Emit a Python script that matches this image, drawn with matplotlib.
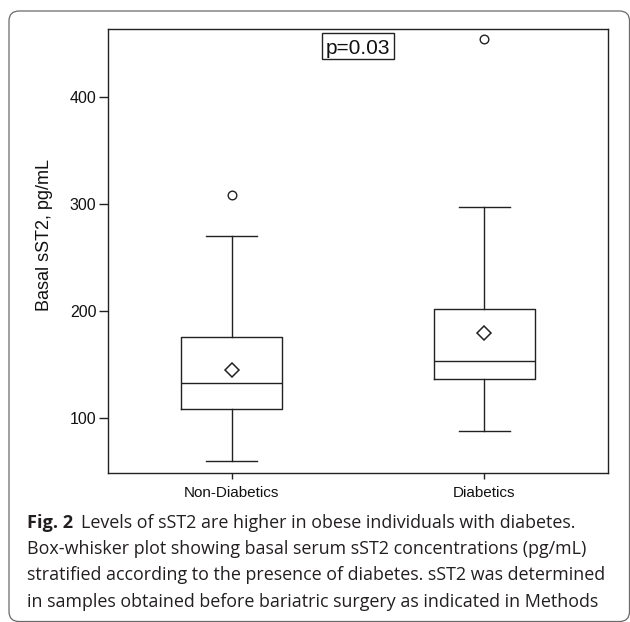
import matplotlib
matplotlib.use('Agg')
import matplotlib.pyplot as plt
from matplotlib.patches import FancyBboxPatch, Rectangle

# ---- data ----
groups = ['Non-Diabetics', 'Diabetics']
whislo = [59.5, 87.6]
q1 = [107.9, 135.9]
med = [132.7, 153.3]
mean = [144.6, 178.9]
q3 = [175.7, 201.9]
whishi = [269.8, 296.6]
fliers = [[308.4], [453.6]]
yticks = [100, 200, 300, 400]
p_text = 'p=0.03'
ylabel = 'Basal sST2, pg/mL'
caption_bold = 'Fig. 2'
caption_lines = [
    'Levels of sST2 are higher in obese individuals with diabetes.',
    'Box-whisker plot showing basal serum sST2 concentrations (pg/mL)',
    'stratified according to the presence of diabetes. sST2 was determined',
    'in samples obtained before bariatric surgery as indicated in Methods',
]

W, H = 630, 622
INK = '#222222'
plt.rcParams['font.family'] = ['Liberation Sans', 'DejaVu Sans']

fig = plt.figure(figsize=(W / 100, H / 100), dpi=100)

# rounded frame around the whole figure
frame = FancyBboxPatch((9 / W, 0.5 / H), (629.5 - 9) / W, (611 - 0.5) / H,
                       boxstyle='round,pad=0,rounding_size=0.016',
                       transform=fig.transFigure, fc='none', ec='#6a6a6a', lw=0.9)
fig.patches.append(frame)

ax = fig.add_axes([108.3 / W, 1 - 473.3 / H, 499.4 / W, 444.3 / H])

stats = []
for i, g in enumerate(groups):
    stats.append(dict(label=g, whislo=whislo[i], q1=q1[i], med=med[i], q3=q3[i],
                      whishi=whishi[i], mean=mean[i], fliers=fliers[i]))

lp = dict(color=INK, lw=1.0)
ax.bxp(stats, positions=[1, 2], widths=0.4, capwidths=0.2, showmeans=True,
       boxprops=lp, whiskerprops=lp, capprops=lp, medianprops=lp,
       meanprops=dict(marker='D', markerfacecolor='white', markeredgecolor=INK,
                      markersize=7, markeredgewidth=1.1),
       flierprops=dict(marker='o', markerfacecolor='none', markeredgecolor=INK,
                       markersize=6.2, markeredgewidth=1.0))

ax.set_xlim(0.5115, 2.4885)
ax.set_ylim(48.0, 463.3)
ax.set_yticks(yticks)
ax.set_yticklabels([str(v) for v in yticks])
for s in ax.spines.values():
    s.set_color(INK)
    s.set_linewidth(1.0)
ax.tick_params(axis='y', length=6.5, width=1.0, pad=2, labelsize=11.5, colors=INK)
ax.tick_params(axis='x', length=4.5, width=1.0, pad=5, labelsize=11, colors=INK)
for t in ax.get_xticklabels() + ax.get_yticklabels():
    t.set_color('#111111')

# p-value box
ax.add_patch(Rectangle((0.4273, 0.9318), 0.5721 - 0.4273, 0.9903 - 0.9318,
                       transform=ax.transAxes, fc='white', ec=INK, lw=1.0, zorder=5))
ax.text(0.4995, 0.943, p_text, transform=ax.transAxes, ha='center', va='baseline',
        fontsize=15, color='#111111', zorder=6)

# y label
fig.text(45 / W, 1 - 235 / H, ylabel, rotation=90, ha='center', va='center',
         fontsize=13, color='#111111')

# caption
cap_font = ['Open Sans', 'DejaVu Sans']
CAPC = '#231f20'
r = fig.canvas.get_renderer()
probe = fig.text(0, 0, caption_lines[3], fontsize=10, family=cap_font)
w10 = probe.get_window_extent(r).width
probe.remove()
fs = 10 * 572 / w10

x0 = 27
baselines = [527.7, 554.3, 580.5, 606.8]
fb = fig.text(x0 / W, 1 - baselines[0] / H, caption_bold, fontsize=fs * 1.02, family=cap_font,
              weight='bold', color=CAPC, va='baseline', ha='left')
wb = fb.get_window_extent(r).width
fig.text((x0 + wb + 8) / W, 1 - baselines[0] / H, caption_lines[0], fontsize=fs, family=cap_font,
         color=CAPC, va='baseline', ha='left')
for line, b in zip(caption_lines[1:], baselines[1:]):
    fig.text(x0 / W, 1 - b / H, line, fontsize=fs, family=cap_font, color=CAPC,
             va='baseline', ha='left')

fig.savefig('out.png', dpi=100)
